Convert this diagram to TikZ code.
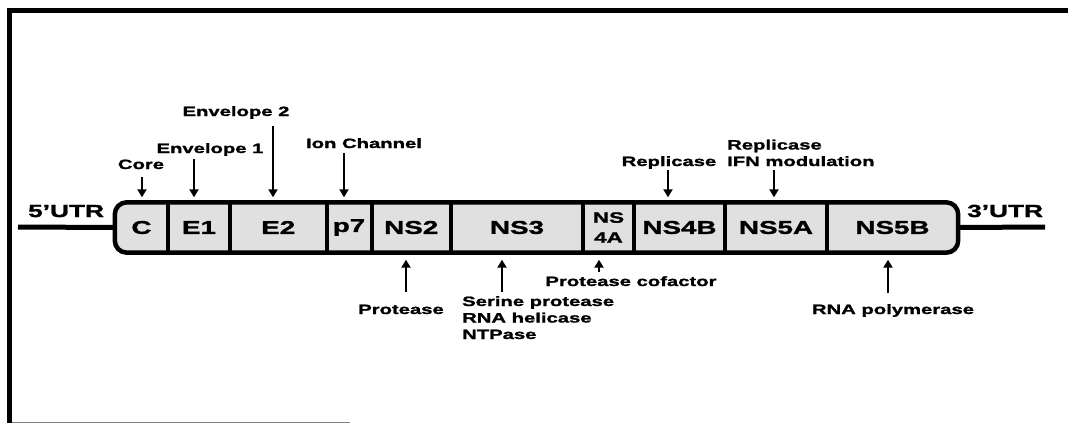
\documentclass[tikz,border=0pt]{standalone}
\usepackage{fontspec}
\setmainfont{Liberation Sans}[FakeStretch=1.5, BoldFeatures={FakeBold=1.5}]
\usetikzlibrary{arrows.meta,backgrounds}
\definecolor{cellgray}{gray}{0.88}

\tikzset{
  seg/.style={minimum height=50pt, inner sep=0pt, font=\fontsize{18.5}{20}\selectfont\bfseries},
  fn/.style={font=\fontsize{13.5}{16.5}\selectfont\bfseries, inner sep=0pt, anchor=base},
  utr/.style={font=\fontsize{17.5}{18}\selectfont\bfseries, inner sep=0pt, anchor=base west},
  arr/.style={->, line width=2.5pt},
}

\begin{document}
\begin{tikzpicture}[x=1pt,y=-1pt,>={Triangle[length=8pt,width=9pt]}]
\useasboundingbox (0,0) rectangle (1068,423);

% frame of the scan
\draw[line width=5pt] (1068,10.5) -- (9.5,10.5) -- (9.5,423);
\draw[gray, line width=1pt] (12,422) -- (350,422);

% polyprotein
\node[seg, minimum width=53pt]   (C)    at (141.5,227.5)  {C};
\node[seg, minimum width=62pt]   (E1)   at (199,227.5)    {E1};
\node[seg, minimum width=96.5pt] (E2)   at (278.25,227.5) {E2};
\node[seg, minimum width=45pt]   (p7)   at (349,227.5)    {p7};
\node[seg, minimum width=79.5pt] (NS2)  at (411.25,227.5) {NS2};
\node[seg, minimum width=132pt]  (NS3)  at (517,227.5)    {NS3};
\node[seg, minimum width=51pt, align=center, font=\fontsize{15}{20}\selectfont\bfseries]
                                 (NS4A) at (608.5,227.5)  {NS\\4A};
\node[seg, minimum width=91pt]   (NS4B) at (679.5,227.5)  {NS4B};
\node[seg, minimum width=102pt]  (NS5A) at (776,227.5)    {NS5A};
\node[seg, minimum width=131pt]  (NS5B) at (892.5,227.5)  {NS5B};

\begin{scope}[on background layer]
\fill[cellgray, rounded corners=12pt] (C.north west) rectangle (NS5B.south east);
\end{scope}

% UTRs
\coordinate (u5) at (18,227);
\coordinate (u3) at (1045,227);
\draw[line width=5pt] (u5) -- (C.west);
\draw[line width=5pt] (NS5B.east) -- (u3);
\node[utr] (utr5) at (28,217)  {5’UTR};
\node[utr] (utr3) at (967,217) {3’UTR};

\draw[line width=4.5pt, rounded corners=12pt] (C.north west) rectangle (NS5B.south east);
\foreach \s in {C,E1,E2,p7,NS2,NS3,NS4A,NS4B,NS5A}
  \draw[line width=4pt] (\s.north east) -- (\s.south east);

% functions above
\node[fn] (core)   at (141,169) {Core};
\node[fn] (env1)   at (210,153) {Envelope 1};
\node[fn] (env2)   at (236,116) {Envelope 2};
\node[fn] (ion)    at (364,148) {Ion Channel};
\node[fn] (rep)    at (669,166) {Replicase};
\node[fn, anchor=base west, align=left] (repifn) at (727,166) {Replicase\\IFN modulation};

\coordinate (tC)    at (142,177);
\coordinate (tE1)   at (194,159);
\coordinate (tE2)   at (273,126);
\coordinate (tp7)   at (344,153);
\coordinate (tNS4B) at (668,170);
\coordinate (tNS5A) at (774,170);
\draw[arr, shorten >=5pt] (tC) -- (tC |- C.north);
\draw[arr, shorten >=5pt] (tE1) -- (tE1 |- E1.north);
\draw[arr, shorten >=5pt] (tE2) -- (tE2 |- E2.north);
\draw[arr, shorten >=5pt] (tp7) -- (tp7 |- p7.north);
\draw[arr, shorten >=5pt] (tNS4B) -- (tNS4B |- NS4B.north);
\draw[arr, shorten >=5pt] (tNS5A) -- (tNS5A |- NS5A.north);

% functions below
\node[fn] (prot) at (401,314) {Protease};
\node[fn, anchor=base west, align=left] (ns3fn) at (462,339) {Serine protease\\RNA helicase\\NTPase};
\node[fn] (cof)  at (631,286) {Protease cofactor};
\node[fn] (pol)  at (893,314) {RNA polymerase};

\coordinate (tNS2)  at (406,292);
\coordinate (tNS3)  at (502,292);
\coordinate (tNS4A) at (599,272);
\coordinate (tNS5B) at (888,293);
\draw[arr, shorten >=7pt] (tNS2) -- (tNS2 |- NS2.south);
\draw[arr, shorten >=7pt] (tNS3) -- (tNS3 |- NS3.south);
\draw[arr, shorten >=7pt] (tNS4A) -- (tNS4A |- NS4A.south);
\draw[arr, shorten >=7pt] (tNS5B) -- (tNS5B |- NS5B.south);
\end{tikzpicture}
\end{document}
